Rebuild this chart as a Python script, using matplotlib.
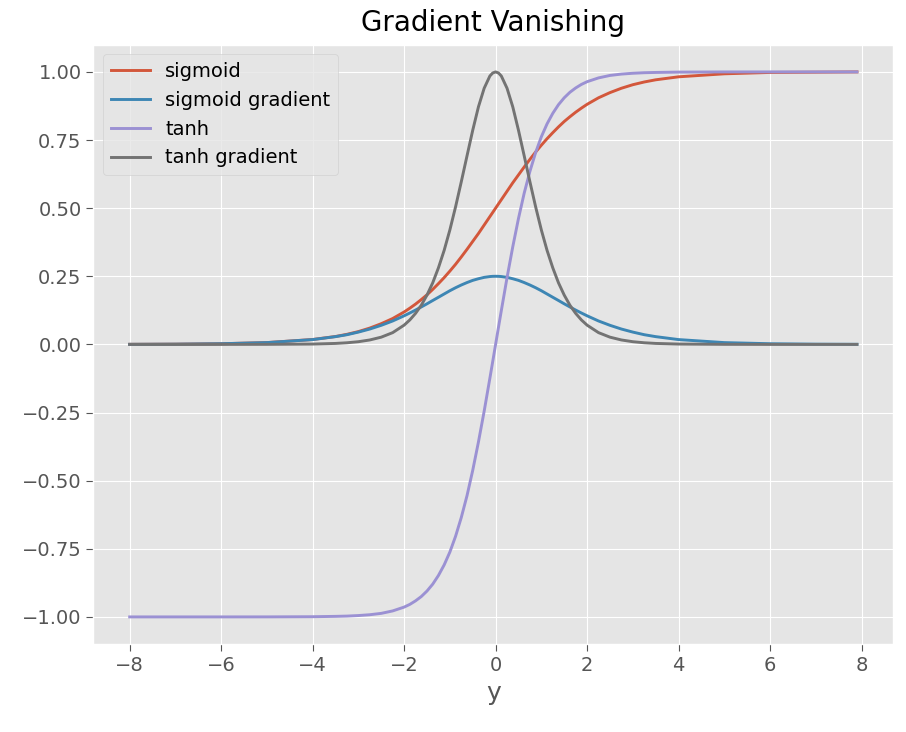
#!/usr/bin/env python3
"""Sigmoid / tanh and their gradients, ggplot look."""

import matplotlib

matplotlib.use("Agg")
import matplotlib.pyplot as plt

# sample positions (denser near the centre where the curves bend)
X = [-8, -7, -6, -5, -4, -3.5, -3.25, -3, -2.75, -2.5, -2.25, -2,
     -1.875, -1.75, -1.625, -1.5, -1.375, -1.25, -1.125, -1, -0.875,
     -0.75, -0.625, -0.5, -0.375, -0.25, -0.125, -0.0625, 0, 0.0625,
     0.125, 0.25, 0.375, 0.5, 0.625, 0.75, 0.875, 1, 1.125, 1.25, 1.375,
     1.5, 1.625, 1.75, 1.875, 2, 2.25, 2.5, 2.75, 3, 3.25, 3.5, 4, 5, 6,
     7, 7.9]

SIGMOID = [0.0003, 0.0009, 0.0025, 0.0067, 0.018, 0.029, 0.037, 0.047,
           0.060, 0.076, 0.095, 0.119, 0.133, 0.148, 0.1645, 0.182, 0.2018,
           0.223, 0.2451, 0.269, 0.294, 0.321, 0.349, 0.378, 0.407, 0.438,
           0.469, 0.4844, 0.500, 0.5156, 0.531, 0.562, 0.593, 0.622, 0.651,
           0.679, 0.706, 0.731, 0.7549, 0.777, 0.7982, 0.818, 0.8355, 0.852,
           0.867, 0.881, 0.905, 0.924, 0.940, 0.953, 0.963, 0.971, 0.982,
           0.993, 0.998, 0.999, 1.000]

SIGMOID_GRAD = [0.0003, 0.0009, 0.0025, 0.0066, 0.0177, 0.0285, 0.0356,
                0.0452, 0.0564, 0.0701, 0.0860, 0.105, 0.1153, 0.126,
                0.1374, 0.149, 0.1611, 0.173, 0.1850, 0.197, 0.208, 0.218,
                0.227, 0.235, 0.241, 0.246, 0.249, 0.2498, 0.250, 0.2498,
                0.249, 0.246, 0.241, 0.235, 0.227, 0.218, 0.208, 0.197,
                0.1850, 0.173, 0.1611, 0.149, 0.1374, 0.126, 0.1153, 0.105,
                0.0860, 0.0701, 0.0564, 0.0452, 0.0356, 0.0285, 0.0177,
                0.0066, 0.0025, 0.0009, 0.0004]

TANH = [-1.0, -1.0, -1.0, -0.9999, -0.9993, -0.998, -0.997, -0.995, -0.992,
        -0.987, -0.978, -0.964, -0.954, -0.941, -0.9253, -0.905, -0.8798,
        -0.848, -0.8093, -0.762, -0.704, -0.635, -0.555, -0.462, -0.358,
        -0.245, -0.124, -0.0624, 0.0, 0.0624, 0.124, 0.245, 0.358, 0.462,
        0.555, 0.635, 0.704, 0.762, 0.8093, 0.848, 0.8798, 0.905, 0.9253,
        0.941, 0.954, 0.964, 0.978, 0.987, 0.992, 0.995, 0.997, 0.998,
        0.9993, 0.9999, 1.0, 1.0, 1.0]

TANH_GRAD = [0.0, 0.0, 0.0, 0.0002, 0.0013, 0.0036, 0.0060, 0.0099, 0.0163,
             0.0266, 0.0432, 0.0707, 0.0899, 0.114, 0.1437, 0.181, 0.2259,
             0.281, 0.345, 0.420, 0.505, 0.597, 0.692, 0.786, 0.872, 0.940,
             0.985, 0.9961, 1.0, 0.9961, 0.985, 0.940, 0.872, 0.786, 0.692,
             0.597, 0.505, 0.420, 0.345, 0.281, 0.2259, 0.181, 0.1437, 0.114,
             0.0899, 0.0707, 0.0432, 0.0266, 0.0163, 0.0099, 0.0060, 0.0036,
             0.0013, 0.0002, 0.0, 0.0, 0.0]

SERIES = [
    (SIGMOID, "sigmoid", "#d3573b"),
    (SIGMOID_GRAD, "sigmoid gradient", "#3d86b4"),
    (TANH, "tanh", "#9b91d3"),
    (TANH_GRAD, "tanh gradient", "#737373"),
]


def main() -> None:
    plt.style.use("ggplot")
    plt.rcParams["font.family"] = ["DejaVu Sans"]

    fig = plt.figure(figsize=(9.06, 7.32), dpi=100)
    ax = fig.add_axes((0.103, 0.120, 0.883, 0.819))

    for values, label, color in SERIES:
        ax.plot(X, values, linewidth=2.1, color=color, label=label)

    ax.set_title("Gradient Vanishing", fontsize=20, pad=10)
    ax.set_xlabel("y", fontsize=18)
    ax.tick_params(axis="both", labelsize=14, length=5)
    ax.set_xticks([-8, -6, -4, -2, 0, 2, 4, 6, 8])
    ax.set_yticks([-1.0, -0.75, -0.5, -0.25, 0.0, 0.25, 0.5, 0.75, 1.0])
    ax.legend(loc="upper left", fontsize=14, handlelength=2.0)

    fig.savefig("out.png", dpi=100)
    plt.close(fig)


if __name__ == "__main__":
    main()
